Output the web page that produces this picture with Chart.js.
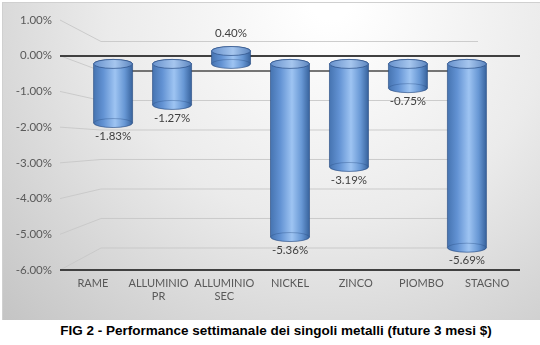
<!DOCTYPE html>
<html>
<head>
<meta charset="utf-8">
<script src="https://cdn.jsdelivr.net/npm/chart.js@4.4.1/dist/chart.umd.min.js"></script>
<style>
  body { margin: 0; background: #fff; }
  #wrap { position: relative; width: 540px; height: 345px; }
  #chartBox { position: absolute; left: 0; top: 0; width: 540px; height: 320px; }
  #fig { position: absolute; left: 0; top: 321px; width: 540px; padding-left: 12px; box-sizing: border-box;
         text-align: center; font: bold 13.5px "Liberation Sans", Arial, sans-serif; line-height: 19px; color: #000; }
</style>
</head>
<body>
<div id="wrap">
  <div id="chartBox"><canvas id="metalli" width="540" height="320"></canvas></div>
  <div id="fig">FIG 2 - Performance settimanale dei singoli metalli (future 3 mesi $)</div>
</div>
<script>
// dati
const categorie = ['RAME', ['ALLUMINIO', 'PR'], ['ALLUMINIO', 'SEC'], 'NICKEL', 'ZINCO', 'PIOMBO', 'STAGNO'];
const performance = [-1.83, -1.27, 0.40, -5.36, -3.19, -0.75, -5.69];
const tickValori = [1, 0, -1, -2, -3, -4, -5, -6];

const fontAssi = { family: 'Lato', size: 11 };
const fontValori = { family: 'Lato', size: 11.5 };

// sfondo grigio sfumato + pareti "3D"
const sfondo = {
  id: 'sfondo',
  beforeDraw(chart) {
    const ctx = chart.ctx;
    ctx.save();
    const g = ctx.createRadialGradient(330, 0, 20, 330, 0, 470);
    g.addColorStop(0, '#ffffff');
    g.addColorStop(0.45, '#ebebeb');
    g.addColorStop(1, '#c2c2c2');
    ctx.fillStyle = g;
    ctx.fillRect(2, 2, 538, 318);
    ctx.strokeStyle = '#d0d0d0';
    ctx.lineWidth = 1;
    ctx.strokeRect(2.5, 2.5, 538, 318);
    ctx.restore();
  },
  beforeDatasetsDraw(chart) {
    const ctx = chart.ctx;
    const a = chart.chartArea;
    const yF = chart.scales.y, yB = chart.scales.yBack;
    ctx.save();
    tickValori.forEach(v => {
      const yf = yF.getPixelForValue(v);
      const yb = yB.getPixelForValue(v);
      ctx.strokeStyle = 'rgba(200,200,200,0.9)';
      ctx.lineWidth = 1;
      ctx.beginPath();
      ctx.moveTo(a.left, yf);
      ctx.lineTo(a.left + 41, yb);
      if (v !== 0) ctx.lineTo(a.right - 42, yb);
      ctx.stroke();
      if (v === 0) {
        ctx.strokeStyle = '#4a4a4a';
        ctx.lineWidth = 1.3;
        ctx.beginPath();
        ctx.moveTo(a.left + 41, yb);
        ctx.lineTo(a.right - 42, yb);
        ctx.stroke();
      }
    });
    // linee frontali (0% e -6%)
    ctx.strokeStyle = '#404040';
    ctx.lineWidth = 2;
    [0, -6].forEach(v => {
      const y = Math.round(yF.getPixelForValue(v));
      ctx.beginPath();
      ctx.moveTo(a.left, y);
      ctx.lineTo(a.right, y);
      ctx.stroke();
    });
    ctx.restore();
  }
};

function cilindro(ctx, cx, w, top, bottom) {
  const rx = w / 2, ry = 4.5;
  const g = ctx.createLinearGradient(cx - rx, 0, cx + rx, 0);
  g.addColorStop(0, '#4674b1');
  g.addColorStop(0.25, '#6292d3');
  g.addColorStop(0.55, '#9ec4f2');
  g.addColorStop(0.8, '#6797d4');
  g.addColorStop(1, '#38639d');
  ctx.beginPath();
  ctx.moveTo(cx - rx, top);
  ctx.lineTo(cx - rx, bottom);
  ctx.ellipse(cx, bottom, rx, ry, 0, Math.PI, 0, true);
  ctx.lineTo(cx + rx, top);
  ctx.ellipse(cx, top, rx, ry, 0, 0, Math.PI, true);
  ctx.closePath();
  ctx.fillStyle = g;
  ctx.fill();
  ctx.strokeStyle = 'rgba(40,75,130,0.8)';
  ctx.lineWidth = 0.8;
  ctx.stroke();
  // bordo posteriore del fondo
  ctx.beginPath();
  ctx.ellipse(cx, bottom, rx, ry, 0, Math.PI, 2 * Math.PI);
  ctx.strokeStyle = 'rgba(40,75,130,0.45)';
  ctx.stroke();
  // tappo superiore
  const gc = ctx.createLinearGradient(cx - rx, 0, cx + rx, 0);
  gc.addColorStop(0, '#6791cc');
  gc.addColorStop(0.55, '#a6c6ee');
  gc.addColorStop(1, '#5c86c0');
  ctx.beginPath();
  ctx.ellipse(cx, top, rx, ry, 0, 0, 2 * Math.PI);
  ctx.fillStyle = gc;
  ctx.fill();
  ctx.strokeStyle = 'rgba(40,75,130,0.85)';
  ctx.stroke();
}

const cilindri = {
  id: 'cilindri',
  afterDatasetsDraw(chart) {
    const ctx = chart.ctx;
    const meta = chart.getDatasetMeta(0);
    ctx.save();
    meta.data.forEach((bar, i) => {
      const p = bar.getProps(['x', 'y', 'base', 'width'], true);
      const top = Math.min(p.y, p.base);
      const bottom = Math.max(p.y, p.base);
      cilindro(ctx, p.x, p.width, top, bottom);
      const v = performance[i];
      ctx.fillStyle = '#404040';
      ctx.font = fontValori.size + 'px ' + fontValori.family;
      ctx.textAlign = 'center';
      ctx.textBaseline = 'middle';
      const ly = v < 0 ? bottom + 13 : top - 18;
      ctx.fillText(v.toFixed(2) + '%', p.x, ly);
    });
    ctx.restore();
  }
};

new Chart(document.getElementById('metalli'), {
  type: 'bar',
  data: {
    labels: categorie,
    datasets: [{
      label: 'Performance',
      data: performance.map((v, i) => ({ x: i, y: v })),
      xAxisID: 'xBar',
      yAxisID: 'yBar',
      backgroundColor: 'rgba(0,0,0,0)',
      borderWidth: 0,
      barThickness: 39
    }]
  },
  options: {
    responsive: false,
    animation: false,
    layout: { padding: { left: 2, right: 20, top: 20, bottom: 0 } },
    plugins: {
      legend: { display: false },
      tooltip: { enabled: false }
    },
    scales: {
      x: {
        type: 'category',
        display: true,
        grid: { display: false, drawTicks: false },
        border: { display: false },
        ticks: { font: fontAssi, color: '#595959', padding: 7, maxRotation: 0, autoSkip: false },
        afterFit(scale) { scale.height = 50; }
      },
      y: {
        type: 'linear',
        display: true,
        position: 'left',
        min: -6,
        max: 1,
        grid: { display: false, drawTicks: false },
        border: { display: false },
        ticks: {
          stepSize: 1,
          font: fontValori,
          color: '#595959',
          padding: 8,
          callback: v => v.toFixed(2) + '%'
        },
        afterFit(scale) { scale.width = 58; }
      },
      xBar: { type: 'linear', display: false, offset: false, min: -0.9, max: 6.9 },
      yBar: { type: 'linear', display: false, min: -6.38, max: 1.36 },
      yBack: { type: 'linear', display: false, min: -6.746, max: 1.729 }
    }
  },
  plugins: [sfondo, cilindri]
});
</script>
</body>
</html>
